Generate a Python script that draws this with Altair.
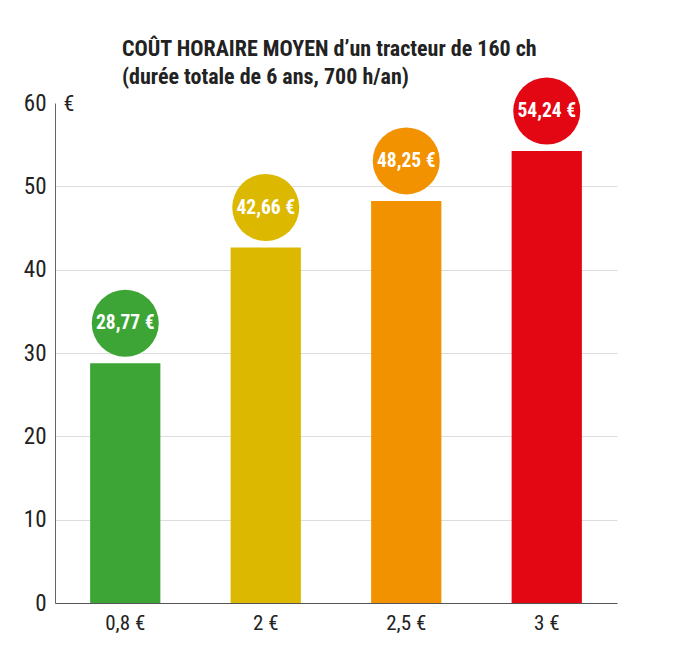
import altair as alt
import pandas as pd

categories = ["0,8 €", "2 €", "2,5 €", "3 €"]
values = [28.77, 42.66, 48.25, 54.24]
labels = ["28,77 €", "42,66 €", "48,25 €", "54,24 €"]
colors = ["#3DA535", "#DDB800", "#F39200", "#E30613"]

df = pd.DataFrame({"cat": categories, "val": values, "lab": labels, "col": colors})

FONT = "Liberation Sans Narrow, Arial Narrow, Roboto Condensed, Liberation Sans, sans-serif"

x = alt.X("cat:N", sort=categories,
          scale=alt.Scale(paddingInner=0.5, paddingOuter=0.25),
          axis=alt.Axis(title=None, labelAngle=0, ticks=False, labelFontSize=21, grid=False,
                        labelColor="#222", labelFont=FONT, labelPadding=9,
                        domainColor="#555", domainWidth=1.2))
y = alt.Y("val:Q", scale=alt.Scale(domain=[0, 60], nice=False),
          axis=alt.Axis(title="€", titleAngle=0, titleX=8, titleY=0, titleAlign="left",
                        titleBaseline="middle", titleFontSize=22, titleFontWeight="normal",
                        titleColor="#222", titleFont=FONT,
                        values=[0, 10, 20, 30, 40, 50, 60], ticks=False, labelFontSize=23,
                        labelColor="#222", labelFont=FONT, labelPadding=9,
                        domainColor="#666", grid=True,
                        gridColor=alt.condition(alt.datum.value == 60, alt.value("transparent"), alt.value("#dddddd"))))

color = alt.Color("col:N", scale=None, legend=None)

bars = alt.Chart(df).mark_bar().encode(x=x, y=y, color=color)
circles = alt.Chart(df).mark_circle(size=4490, opacity=1, yOffset=-40).encode(x=x, y=y, color=color)
texts = alt.Chart(df).mark_text(yOffset=-40, color="white", fontWeight="bold", fontSize=19.5,
                                font=FONT, baseline="middle").encode(x=x, y=y, text="lab:N")

chart = alt.layer(bars, circles, texts).properties(
    width=562, height=500,
    title=alt.TitleParams(
        text=["COÛT HORAIRE MOYEN d’un tracteur de 160 ch", "(durée totale de 6 ans, 700 h/an)"],
        anchor="start", dx=67, fontSize=22, fontWeight="bold", font=FONT, color="#222",
        lineHeight=28, offset=-12, frame="group"),
    autosize=alt.AutoSizeParams(type="none"),
    padding={"left": 55, "top": 103, "right": 83, "bottom": 45},
).configure_view(stroke=None)

chart.save("out.html", embed_options={"renderer": "svg", "actions": False})
